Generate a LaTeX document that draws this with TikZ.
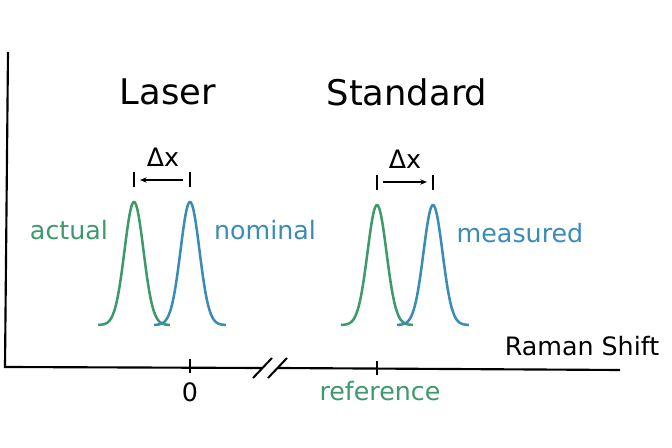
\documentclass[tikz,border=0pt]{standalone}
\usepackage{fontspec}
\setmainfont{DejaVu Sans}
\usetikzlibrary{arrows.meta}

\definecolor{refgreen}{RGB}{62,154,106}
\definecolor{nomblue}{RGB}{58,139,181}

\tikzset{
    axisline/.style={line width=1.6pt, black},
    peak/.style={line width=1.9pt, smooth, samples=60, domain=-36:36},
    shiftbar/.style={line width=0.9pt, black},
    label/.style={font=\fontsize{19}{22}\selectfont, inner sep=0pt},
    title/.style={font=\fontsize{26.5}{30}\selectfont, inner sep=0pt}
}

\begin{document}
\begin{tikzpicture}[x=0.75pt, y=-0.75pt]
    \useasboundingbox (0,0) rectangle (672,448);

    % Draw the axes with a break
    \coordinate (top) at (8,52);
    \coordinate (origin) at (5,367);
    \coordinate (breakL) at (262,368);
    \coordinate (breakR) at (278,368);
    \coordinate (xend) at (620,370);
    \draw[axisline] (top) -- (origin) -- (breakL);
    \draw[axisline] (breakR) -- (xend);
    \draw[line width=1.5pt] (253,378) -- (272,358);
    \draw[line width=1.5pt] (268,378) -- (287,358);
    \node[label] (shift) at (582,346) {Raman Shift};

    % Draw the ticks
    \coordinate (zeroT) at (190,359);
    \coordinate (zeroB) at (190,373);
    \coordinate (refT) at (377,361);
    \coordinate (refB) at (377,375);
    \draw[line width=0.9pt] (zeroT) -- (zeroB);
    \draw[line width=0.9pt] (refT) -- (refB);
    \node[label] (zero) at (190,392) {0};
    \node[label, refgreen] (reference) at (380,391) {reference};

    % Draw the peaks
    \draw[peak, refgreen, shift={(134,325)}] plot (\x, {-123*exp(-(\x)^2/180)});
    \draw[peak, nomblue, shift={(190,325)}] plot (\x, {-123*exp(-(\x)^2/180)});
    \draw[peak, refgreen, shift={(377,325)}] plot (\x, {-120*exp(-(\x)^2/180)});
    \draw[peak, nomblue, shift={(433,325)}] plot (\x, {-120*exp(-(\x)^2/180)});

    % Laser side
    \node[title] (laser) at (168,92) {Laser};
    \node[label, refgreen] (actual) at (69,230) {actual};
    \node[label, nomblue] (nominal) at (265,230) {nominal};
    \coordinate (laserA) at (134,172);
    \coordinate (laserB) at (190,172);
    \draw[shiftbar] (laserA) -- ++(0,15);
    \draw[shiftbar] (laserB) -- ++(0,15);
    \draw[shiftbar, -{Stealth[length=5pt, width=4pt]}] ([shift={(-7,8)}]laserB) -- ([shift={(6,8)}]laserA);
    \node[label] (dxlaser) at (163,157) {Δx};

    % Standard side
    \node[title] (standard) at (407,92) {Standard};
    \node[label, nomblue] (measured) at (520,233) {measured};
    \coordinate (stdA) at (377,175);
    \coordinate (stdB) at (433,175);
    \draw[shiftbar] (stdA) -- ++(0,15);
    \draw[shiftbar] (stdB) -- ++(0,15);
    \draw[shiftbar, -{Stealth[length=5pt, width=4pt]}] ([shift={(6,7)}]stdA) -- ([shift={(-6,7)}]stdB);
    \node[label] (dxstd) at (405,159) {Δx};
\end{tikzpicture}
\end{document}
